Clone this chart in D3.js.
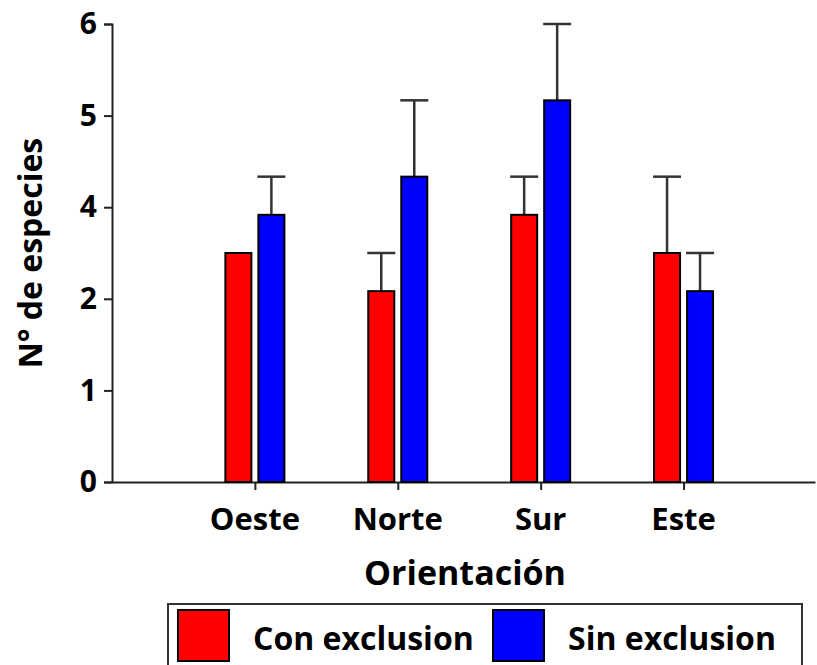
<!DOCTYPE html>
<html>
<head>
<meta charset="utf-8">
<script src="https://cdn.jsdelivr.net/npm/d3@7"></script>
<style>
  html, body { margin: 0; padding: 0; background: #fff; }
  svg { display: block; font-family: "Open Sans", sans-serif; font-weight: 700; }
</style>
</head>
<body>
<svg id="chart" width="817" height="665"></svg>
<script>
// ---- data ----
const categories = ["Oeste", "Norte", "Sur", "Este"];
const conExclusion = [3, 2.5, 3.5, 3];
const conError = [0, 0.5, 0.5, 1];
const sinExclusion = [3.5, 4, 5, 2.5];
const sinError = [0.5, 1, 1, 0.5];
// the original axis puts 6 ticks on 0..6 and rounds the labels
const yTickValues = [0, 1.2, 2.4, 3.6, 4.8, 6];
const yTickLabels = ["0", "1", "2", "4", "5", "6"];
const seriesNames = ["Con exclusion", "Sin exclusion"];
const seriesColors = ["#ff0000", "#0000ff"];

// ---- scales ----
const svg = d3.select("#chart");
const x = d3.scaleLinear().domain([0, 4.92]).range([112, 815]);
const y = d3.scaleLinear().domain([0, 6]).range([482, 24]);
const barW = 26, gap = 3.5, capW = 28;

// ---- axes ----
const yAxis = d3.axisLeft(y).tickValues(yTickValues).tickSize(8).tickFormat((d, i) => yTickLabels[i]);
const gy = svg.append("g").attr("transform", "translate(112,0)").call(yAxis);
gy.select(".domain").attr("stroke", "#222").attr("stroke-width", 2);
gy.selectAll(".tick line").attr("stroke", "#222").attr("stroke-width", 2);
gy.selectAll(".tick text").attr("x", -15).attr("font-size", 30).attr("font-weight", 700)
  .attr("fill", "#000").attr("font-family", "Open Sans");

const xAxis = d3.axisBottom(x).tickValues([1, 2, 3, 4]).tickSize(8).tickSizeOuter(0).tickFormat("");
const gx = svg.append("g").attr("transform", "translate(0,482)").call(xAxis);
gx.select(".domain").attr("stroke", "#222").attr("stroke-width", 2);
gx.selectAll(".tick line").attr("stroke", "#222").attr("stroke-width", 2);

svg.append("g").selectAll("text").data(categories).join("text")
  .attr("x", (d, i) => x(i + 1))
  .attr("y", 530)
  .attr("text-anchor", "middle")
  .attr("font-size", 31)
  .text((d) => d);

// ---- bars + error bars ----
const series = [
  { vals: conExclusion, err: conError, off: -gap - barW / 2, color: seriesColors[0] },
  { vals: sinExclusion, err: sinError, off: gap + barW / 2, color: seriesColors[1] },
];
for (const s of series) {
  const g = svg.append("g");
  const rows = categories.map((c, i) => ({ i, v: s.vals[i], e: s.err[i] }));
  const eb = rows.filter((d) => d.e > 0);
  g.selectAll("line.err").data(eb).join("line").attr("class", "err")
    .attr("x1", (d) => x(d.i + 1) + s.off).attr("x2", (d) => x(d.i + 1) + s.off)
    .attr("y1", (d) => y(d.v)).attr("y2", (d) => y(d.v + d.e))
    .attr("stroke", "#333").attr("stroke-width", 2.5);
  g.selectAll("line.cap").data(eb).join("line").attr("class", "cap")
    .attr("x1", (d) => x(d.i + 1) + s.off - capW / 2).attr("x2", (d) => x(d.i + 1) + s.off + capW / 2)
    .attr("y1", (d) => y(d.v + d.e)).attr("y2", (d) => y(d.v + d.e))
    .attr("stroke", "#333").attr("stroke-width", 2.5);
  g.selectAll("rect").data(rows).join("rect")
    .attr("x", (d) => x(d.i + 1) + s.off - barW / 2)
    .attr("y", (d) => y(d.v))
    .attr("width", barW)
    .attr("height", (d) => y(0) - y(d.v))
    .attr("fill", s.color)
    .attr("stroke", "#000").attr("stroke-width", 2);
}

// ---- axis titles ----
svg.append("text")
  .attr("transform", "translate(42,253) rotate(-90)")
  .attr("text-anchor", "middle")
  .attr("font-size", 32)
  .text("N° de especies");
svg.append("text")
  .attr("x", 465).attr("y", 585)
  .attr("text-anchor", "middle")
  .attr("font-size", 34)
  .text("Orientación");

// ---- legend ----
const lg = svg.append("g");
lg.append("rect").attr("x", 168).attr("y", 604).attr("width", 634).attr("height", 80)
  .attr("fill", "#fff").attr("stroke", "#333").attr("stroke-width", 2);
const legX = [178, 493];
seriesNames.forEach((name, i) => {
  lg.append("rect").attr("x", legX[i]).attr("y", 610).attr("width", 51).attr("height", 51)
    .attr("fill", seriesColors[i]).attr("stroke", "#000").attr("stroke-width", 2);
  lg.append("text").attr("x", legX[i] + 75).attr("y", 650).attr("font-size", 32).text(name);
});
</script>
</body>
</html>
